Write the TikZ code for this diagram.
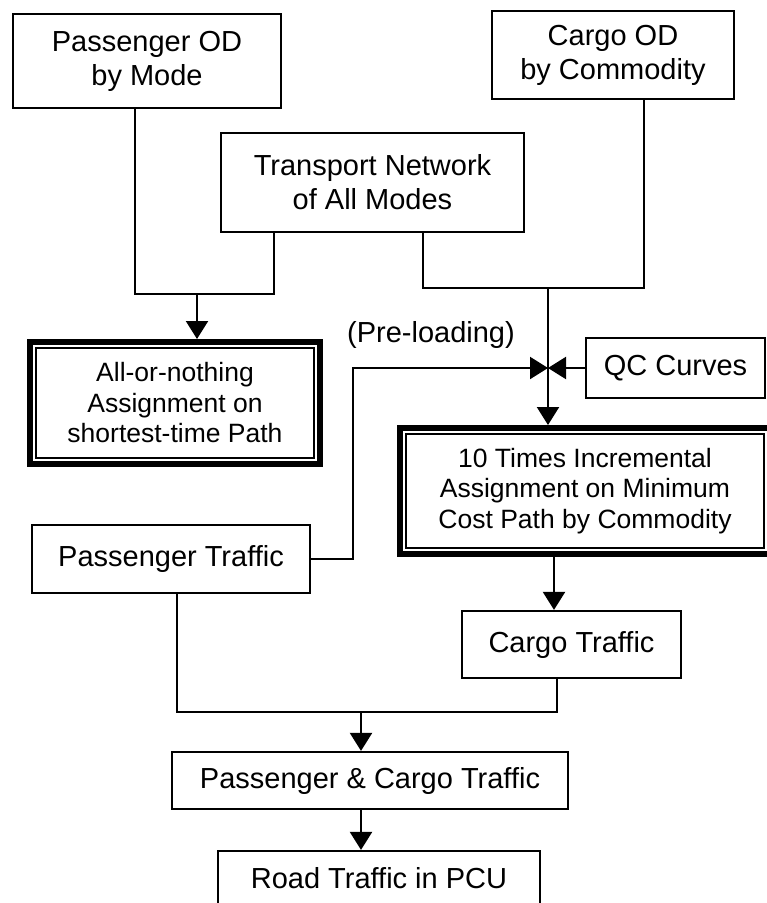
\documentclass[tikz,border=0pt]{standalone}
\usepackage{fontspec}
\setmainfont{Liberation Sans}
\usetikzlibrary{arrows.meta,positioning,calc}

\begin{document}
\begin{tikzpicture}[x=1pt, y=-1pt,
    box/.style={rectangle, draw, line width=2.2pt, align=center, inner sep=0pt,
        font=\fontsize{29}{34}\selectfont},
    dbox/.style={rectangle, draw, line width=2pt, align=center, inner sep=0pt,
        font=\fontsize{26.5}{30.5}\selectfont},
    frame/.style={rectangle, draw, line width=6pt, inner sep=0pt},
    link/.style={line width=2.2pt},
    arr/.style={line width=2.2pt, -{Triangle[length=18pt, width=22pt]}}]
    \useasboundingbox (0,0) rectangle (767,903);
    \clip (0,0) rectangle (767,903);

    % Inputs
    \node[box, minimum width=268, minimum height=94] (pod) at (147,61) {Passenger OD\\by Mode};
    \node[box, minimum width=242, minimum height=88] (cod) at (613,55) {Cargo OD\\by Commodity};
    \node[box, minimum width=303, minimum height=99] (net) at (372.5,182.5) {Transport Network\\of All Modes};
    \node[box, minimum width=179, minimum height=60] (qc) at (675.5,368) {QC Curves};

    % Assignments
    \node[dbox, minimum width=278, minimum height=110] (aon) at (175,403)
        {All-or-nothing\\Assignment on\\shortest-time Path};
    \node[frame, minimum width=290, minimum height=122] (aonf) at (aon) {};
    \node[dbox, minimum width=358, minimum height=114] (inc) at (585,491)
        {10 Times Incremental\\Assignment on Minimum\\Cost Path by Commodity};
    \node[frame, minimum width=370, minimum height=126] (incf) at (inc) {};

    % Outputs
    \node[box, minimum width=278, minimum height=68] (ptr) at (171,559) {Passenger Traffic};
    \node[box, minimum width=219, minimum height=67] (ctr) at (571.5,644.5) {Cargo Traffic};
    \node[box, minimum width=396, minimum height=57] (pct) at (370,780.5) {Passenger \& Cargo Traffic};
    \node[box, minimum width=322, minimum height=55] (rtr) at (379,878.5) {Road Traffic in PCU};

    \node[font=\fontsize{29}{34}\selectfont] (pre) at (431,335) {(Pre-loading)};

    % Junctions
    \coordinate (jp) at (197,294);
    \coordinate (jc) at (548,288);
    \coordinate (jq) at (548,368);
    \coordinate (jm) at (361,712);

    \draw[link] ([xshift=-12pt]pod.south) |- (jp) -| ([xshift=-98.5pt]net.south);
    \draw[arr] (jp) -- (jp |- aonf.north);
    \draw[link] ([xshift=50.5pt]net.south) |- (jc) -| ([xshift=31pt]cod.south);
    \draw[link] (jc) -- (jq);
    \draw[arr] (jq) -- (jq |- incf.north);
    \draw[arr] (ptr.east) -- ++(42,0) |- (jq);
    \draw[arr] (qc.west) -- (jq);
    \draw[arr] ([xshift=-31pt]incf.south) -- ([xshift=-31pt]incf.south |- ctr.north);
    \draw[link] ([xshift=6pt]ptr.south) |- (jm) -| ([xshift=-14.5pt]ctr.south);
    \draw[arr] (jm) -- (jm |- pct.north);
    \draw[arr] (pct.south -| jm) -- (rtr.north -| jm);
\end{tikzpicture}
\end{document}
